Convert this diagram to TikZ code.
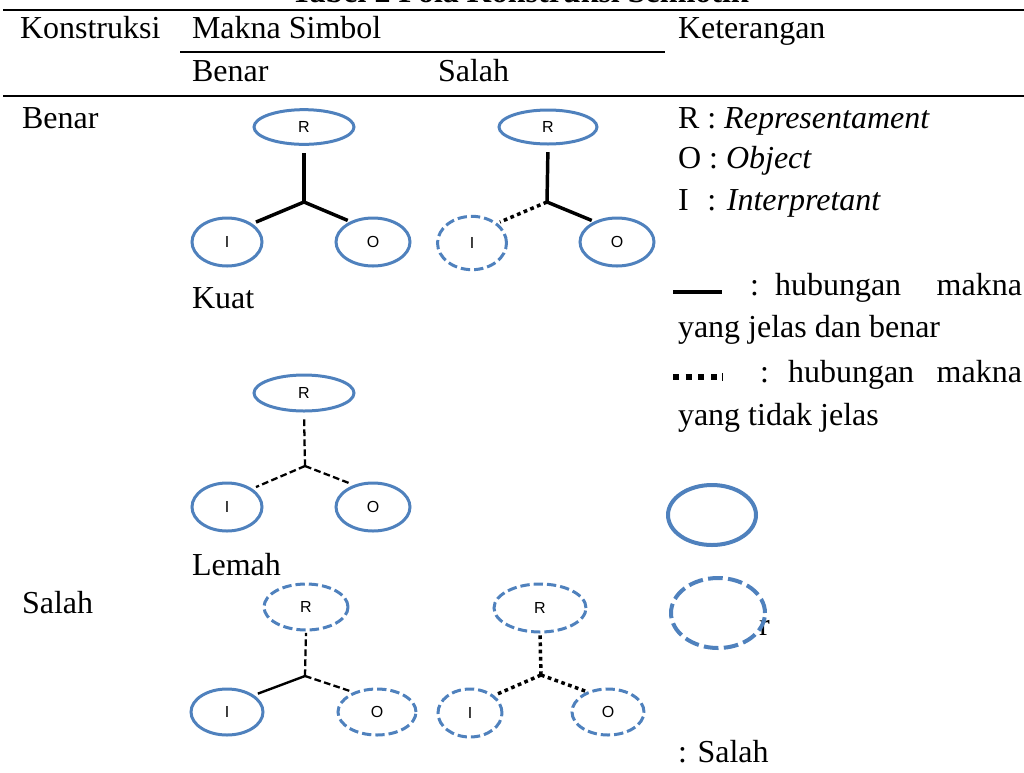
\documentclass[tikz,border=0pt]{standalone}
\usepackage{fontspec}
\setmainfont{Liberation Serif}
\newfontfamily\lblfont{Liberation Sans}
\usetikzlibrary{shapes.geometric}
\definecolor{ebl}{RGB}{79,129,189}
\begin{document}
\begin{tikzpicture}[x=0.75pt,y=-0.75pt,
 txt/.style={anchor=base west, inner sep=0, outer sep=0, font=\fontsize{24}{29}\selectfont},
 txte/.style={txt, anchor=base east},
 ell/.style={ellipse, draw=ebl, line width=2.25pt, inner sep=0, text=black, font=\lblfont\fontsize{12}{13}\selectfont},
 dell/.style={ell, dash pattern=on 7pt off 3pt},
 solidc/.style={line width=2.6pt},
 thinc/.style={line width=1.8pt},
 dashc/.style={line width=1.7pt, dash pattern=on 5pt off 2.5pt},
 dotc/.style={line width=2.6pt, dash pattern=on 2.8pt off 2.6pt},
 tablerule/.style={line width=2pt}
]
\useasboundingbox (0,0) rectangle (1024,772);
\clip (0,0) rectangle (1024,772);

% title (cut off at top)
\node[txt, anchor=base, font=\fontsize{24}{29}\selectfont\bfseries] (title) at (520,2.5) {Tabel 2 Pola Konstruksi Semiotik};

% rules
\draw[tablerule] (3,10) -- (1024,10);
\draw[line width=1.5pt] (180,52) -- (665,52);
\draw[tablerule, line width=2.2pt] (3,96) -- (1024,96);

% header
\node[txt] (hk) at (20,38) {Konstruksi};
\node[txt] (hm) at (192,38) {Makna Simbol};
\node[txt] (hket) at (678,38) {Keterangan};
\node[txt] (hb) at (192,81) {Benar};
\node[txt] (hs) at (438,81) {Salah};

% left column
\node[txt] (lb) at (22,128) {Benar};
\node[txt] (ls) at (22,613) {Salah};
\node[txt] (kuat) at (192,308) {Kuat};
\node[txt] (lemah) at (192,575) {Lemah};

% diagram 1 (kuat)
\node[ell, minimum width=75pt, minimum height=26pt] (r1) at (304,127) {R};
\node[ell, minimum width=52.5pt, minimum height=36pt] (i1) at (227,242) {I};
\node[ell, minimum width=55.5pt, minimum height=36pt] (o1) at (373,242) {O};
\coordinate (j1) at (304,202);
\draw[solidc, shorten >=5pt] (j1) -- (r1.south);
\draw[solidc, shorten >=3pt] (j1) -- (i1.36);
\draw[solidc, shorten >=2pt] (j1) -- (o1.138);

% diagram 2
\node[ell, minimum width=73.5pt, minimum height=25.5pt] (r2) at (548,127) {R};
\node[dell, minimum width=51.75pt, minimum height=40pt] (i2) at (472,243) {I};
\node[ell, minimum width=55.5pt, minimum height=36pt] (o2) at (617,242) {O};
\coordinate (j2) at (547,202);
\draw[solidc, shorten >=5pt] (j2) -- (r2.south);
\draw[dotc, shorten >=2pt] (j2) -- (i2.38);
\draw[solidc, shorten >=2pt] (j2) -- (o2.138);

% diagram 3 (lemah)
\node[ell, minimum width=75pt, minimum height=27pt] (r3) at (304,393) {R};
\node[ell, minimum width=52.5pt, minimum height=36pt] (i3) at (227,507) {I};
\node[ell, minimum width=55.5pt, minimum height=36pt] (o3) at (373,507) {O};
\coordinate (j3) at (305,466);
\draw[dashc, shorten >=4pt] (j3) -- (r3.south);
\draw[dashc, shorten >=3pt] (j3) -- (i3.36);
\draw[dashc, shorten >=2pt] (j3) -- (o3.131);

% diagram 4
\node[dell, minimum width=63pt, minimum height=34.5pt] (r4) at (306,607) {R};
\node[ell, minimum width=54pt, minimum height=34.5pt] (i4) at (227,712) {I};
\node[dell, minimum width=58.5pt, minimum height=34.5pt] (o4) at (377,712) {O};
\coordinate (j4) at (305,676);
\draw[dashc, shorten >=1pt] (j4) -- (r4.south);
\draw[thinc, shorten >=3pt] (j4) -- (i4.32);
\draw[dashc, shorten >=1pt] (j4) -- (o4.140);

% diagram 5
\node[dell, minimum width=69pt, minimum height=36pt] (r5) at (540,608) {R};
\node[dell, minimum width=48pt, minimum height=36pt] (i5) at (470,713) {I};
\node[dell, minimum width=54pt, minimum height=34.5pt] (o5) at (608,712) {O};
\coordinate (j5) at (541,675);
\draw[dotc, shorten >=1pt] (j5) -- (r5.south);
\draw[dotc, shorten >=1pt] (j5) -- (i5.36);
\draw[dotc, shorten >=1pt] (j5) -- (o5.136);

% legend
\node[txt] (kr) at (678,128) {R : \textit{Representament}};
\node[txt] (ko) at (678,168) {O : \textit{Object}};
\node[txt] (ki) at (678,210) {\makebox[0.667em][l]{I} : \textit{Interpretant}};

\coordinate (ls1a) at (673,292);
\coordinate (ls1b) at (722,292);
\draw[line width=3pt] (ls1a) -- (ls1b);
\node[txt] (k1c) at (750,295) {:};
\node[txt] (k1h) at (775,295) {hubungan};
\node[txte] (k1m) at (1022,295) {makna};
\node[txt] (k1b) at (678,337) {yang jelas dan benar};

\coordinate (ls2a) at (673,377);
\coordinate (ls2b) at (719,377);
\draw[line width=4pt, dash pattern=on 4.5pt off 5pt] (ls2a) -- (ls2b);
\coordinate (tk1) at (722.5,373);
\coordinate (tk2) at (722.5,381);
\draw[line width=0.9pt] (tk1) -- (tk2);
\node[txt] (k2c) at (760,382) {:};
\node[txt] (k2h) at (788,382) {hubungan};
\node[txte] (k2m) at (1022,382) {makna};
\node[txt] (k2b) at (678,425) {yang tidak jelas};

\node[ellipse, draw=ebl, line width=3pt, inner sep=0, minimum width=66pt, minimum height=45pt] (le1) at (712,515) {};
\node[txt] (kr2) at (759,635) {r};
\node[ellipse, draw=ebl, line width=3pt, inner sep=0, minimum width=70.5pt, minimum height=52.5pt, dash pattern=on 11pt off 4pt] (le2) at (718,613) {};
\node[txt] (ksal) at (678,762) {: Salah};
\end{tikzpicture}
\end{document}
